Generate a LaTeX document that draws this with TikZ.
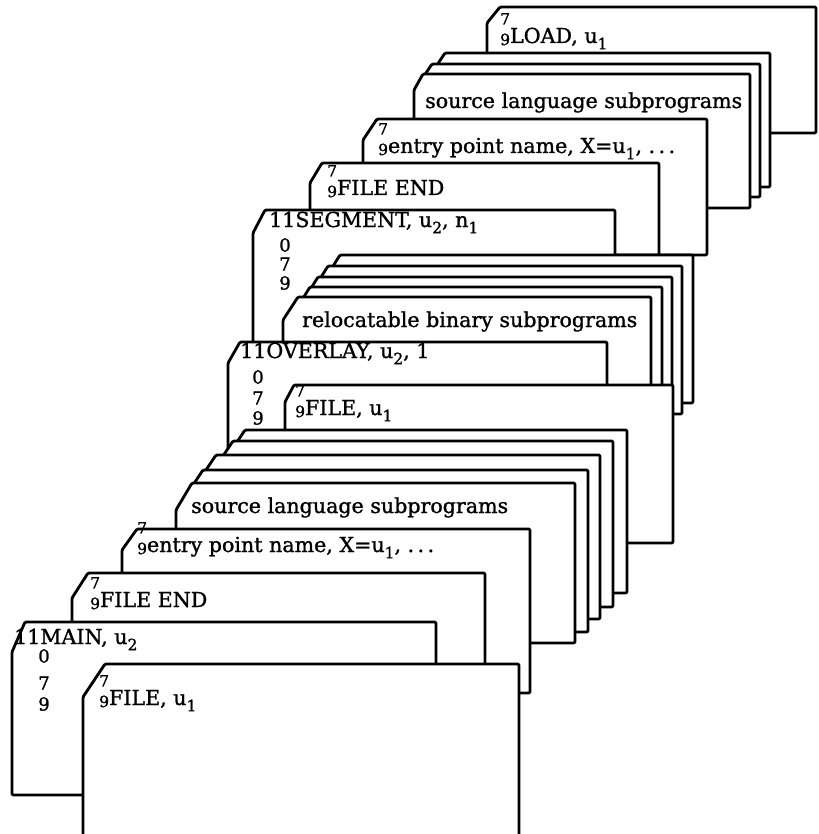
\documentclass[tikz,border=0pt]{standalone}
\usepackage{fontspec}
\setmainfont{DejaVu Serif}[FakeBold=1.2]

% type sizes: card text, punch digits
\newcommand\cardsz{\fontsize{20.6}{22}\selectfont}
\newcommand\punchsz{\fontsize{15.5}{15.5}\selectfont}
\newcommand\rowsz{\fontsize{18}{18}\selectfont}
% 7 over 9 multi-punch prefix
\newcommand\sevnine{\makebox[0pt][l]{\raisebox{0.9em}{\punchsz 7}}\raisebox{-0.1em}{\punchsz 9}}
% lowered index digit
\newcommand\lowidx[1]{\raisebox{-0.3em}{\punchsz #1}}

\tikzset{
  card/.style={draw=black, fill=white, line width=2.8pt, line join=round, rounded corners=1.2pt},
  cardtext/.style={anchor=base west, inner sep=0pt, font=\cardsz},
  rowdigit/.style={anchor=center, inner sep=0pt, font=\rowsz},
}

% one punched card with a clipped top-left corner: left, top, right, bottom, cut width, cut height
\newcommand\deckcard[6]{%
  \filldraw[card] (#1,#4) -- (#1,#2+#6) -- (#1+#5,#2) -- (#3,#2) -- (#3,#4) -- cycle;}

\begin{document}
\begin{tikzpicture}[x=1pt,y=-1pt]
\useasboundingbox (0,0) rectangle (818,834);
\clip (0,0) rectangle (818,834);

% LOAD section
\deckcard{487}{7}{816}{133}{13}{16}
\deckcard{433}{53}{770}{187}{12}{18}
\deckcard{420}{64}{760}{197}{12}{18}
\deckcard{414}{74}{750}{208}{9}{16}
\deckcard{363}{119}{707}{255}{14}{21}
\deckcard{310}{163}{659}{255}{12}{20}

% SEGMENT section
\deckcard{253}{210}{615}{360}{12}{23}
\deckcard{330}{255}{693}{403}{10}{16}
\deckcard{318}{266}{682}{414}{10}{16}
\deckcard{308}{277}{672}{420}{10}{16}
\deckcard{300}{287}{662}{420}{10}{16}
\deckcard{283}{297}{651}{420}{15}{23}

% OVERLAY section
\deckcard{228}{342}{607}{470}{12}{21}
\deckcard{285}{385}{673}{543}{9}{17}

% MAIN section
\deckcard{233}{430}{627}{593}{12}{18}
\deckcard{221}{441}{613}{607}{12}{18}
\deckcard{204}{455}{600}{619}{12}{18}
\deckcard{191}{470}{588}{632}{12}{18}
\deckcard{176}{483}{575}{643}{16}{27}
\deckcard{122}{529}{530}{693}{15}{21}
\deckcard{72}{573}{485}{720}{16}{25}
\deckcard{12}{622}{436}{795}{13}{30}
\deckcard{83}{664}{519}{860}{22}{33}

% card texts
\node[cardtext] (load)   at (500,43)  {\sevnine LOAD, u\lowidx{1}};
\node[cardtext] (srcA)   at (425,108) {source language subprograms};
\node[cardtext] (entA)   at (378,153) {\sevnine entry point name, X=u\lowidx{1}, .\,.\,.};
\node[cardtext] (fendA)  at (327,195) {\sevnine FILE END};

\node[cardtext] (seg)    at (269,227) {11SEGMENT, u\lowidx{2}, n\lowidx{1}};
\node[rowdigit] (segz)   at (285,245) {0};
\node[rowdigit] (segs)   at (285,264) {7};
\node[rowdigit] (segn)   at (285,283) {9};
\node[cardtext] (reloc)  at (302,327) {relocatable binary subprograms};

\node[cardtext] (ovl)    at (240,358) {11OVERLAY, u\lowidx{2}, 1};
\node[rowdigit] (ovlz)   at (258,377) {0};
\node[rowdigit] (ovls)   at (258,398) {7};
\node[rowdigit] (ovln)   at (258,418) {9};
\node[cardtext] (fileB)  at (295,415) {\sevnine FILE, u\lowidx{1}};

\node[cardtext] (srcB)   at (191,513) {source language subprograms};
\node[cardtext] (entB)   at (137,552) {\sevnine entry point name, X=u\lowidx{1}, .\,.\,.};
\node[cardtext] (fendB)  at (90,607)  {\sevnine FILE END};
\node[cardtext] (main)   at (14,644)  {11MAIN, u\lowidx{2}};
\node[rowdigit] (mainz)  at (44,656)  {0};
\node[rowdigit] (mains)  at (44,683)  {7};
\node[rowdigit] (mainn)  at (44,704)  {9};
\node[cardtext] (fileC)  at (99,705)  {\sevnine FILE, u\lowidx{1}};
\end{tikzpicture}
\end{document}
